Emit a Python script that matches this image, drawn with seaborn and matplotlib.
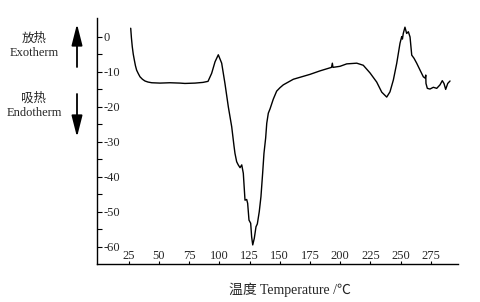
import matplotlib
matplotlib.use("Agg")
import matplotlib.pyplot as plt
import seaborn as sns
import pandas as pd
from matplotlib.ticker import FixedLocator

# Data
temperature = [26.6, 27.2, 27.9, 28.7, 29.6, 30.5, 31.5, 32.9, 34.3, 36.3, 38.4, 40.9, 44.0, 50.8, 59.1,
               67.4, 71.5, 79.8, 86.4, 90.6, 93.6, 96.4, 99.1, 101.9, 104.6, 107.4, 110.2, 112.1, 112.9,
               114.3, 115.6, 117.1, 118.5, 119.8, 121.2, 122.6, 123.4, 124.5, 125.9, 126.7, 127.6, 128.9,
               130.3, 131.4, 133.0, 134.4, 135.8, 136.9, 138.3, 139.2, 140.5, 141.9, 144.6, 147.4, 150.2,
               152.9, 161.2, 175.0, 183.3, 192.8, 193.5, 194.0, 199.8, 205.4, 213.7, 219.1, 224.7, 230.2,
               234.4, 238.5, 241.2, 244.0, 246.8, 249.5, 250.9, 251.5, 252.2, 253.6, 255.0, 256.4, 257.8,
               259.2, 261.1, 263.3, 266.1, 268.8, 270.4, 270.8, 271.0, 272.1, 274.3, 277.1, 279.9, 282.6,
               284.5, 285.9, 287.3, 289.0, 290.9]
heat_flow = [2.5, -0.3, -2.8, -4.9, -6.6, -8.2, -9.5, -10.5, -11.4, -12.1, -12.6, -12.9, -13.1, -13.2, -13.1,
             -13.2, -13.3, -13.2, -13.0, -12.7, -10.4, -7.1, -5.1, -7.5, -13.3, -20.0, -25.7, -31.2, -33.3,
             -35.7, -36.6, -37.4, -36.6, -39.0, -46.7, -46.5, -47.6, -52.4, -53.3, -57.2, -59.5, -57.6,
             -54.3, -53.5, -50.0, -45.7, -39.0, -33.3, -28.9, -24.7, -21.8, -20.6, -17.8, -15.5, -14.5,
             -13.7, -12.1, -10.7, -9.7, -8.7, -7.5, -8.7, -8.4, -7.7, -7.5, -8.1, -10.3, -12.9,
             -15.8, -17.2, -15.7, -12.3, -7.5, -1.8, 0.1, -0.6, 1.0, 2.8, 1.0, 1.5, 0.0,
             -5.2, -6.1, -7.5, -9.5, -11.4, -11.8, -10.9, -13.3, -14.7, -14.9, -14.4, -14.7, -13.7,
             -12.5, -13.3, -15.0, -13.3, -12.6]
x_ticks = [25, 50, 75, 100, 125, 150, 175, 200, 225, 250, 275]
y_ticks = [0, -10, -20, -30, -40, -50, -60]
y_minor = [-5, -15, -25, -35, -45, -55]

df = pd.DataFrame({"T": temperature, "Q": heat_flow})

sns.set_theme(style="white")
plt.rcParams["font.family"] = ["Liberation Serif", "Noto Sans CJK SC"]
plt.rcParams["axes.unicode_minus"] = False

W, H = 480, 302
fig = plt.figure(figsize=(W / 100, H / 100), dpi=100)
ax = fig.add_axes([97 / W, 1 - 264 / H, (458 - 97) / W, (264 - 18.3) / H])

sns.lineplot(data=df, x="T", y="Q", sort=False, estimator=None, color="black", lw=1.0, ax=ax)

ax.set_xlim(-1.3, 297.5)
ax.set_ylim(-64.96, 5.34)
ax.set_xlabel("")
ax.set_ylabel("")

for s in ["top", "right"]:
    ax.spines[s].set_visible(False)
for s in ["left", "bottom"]:
    ax.spines[s].set_color("black")
    ax.spines[s].set_linewidth(1.0)

ax.xaxis.set_major_locator(FixedLocator(x_ticks))
ax.yaxis.set_major_locator(FixedLocator(y_ticks))
ax.yaxis.set_minor_locator(FixedLocator(y_minor))

ax.tick_params(axis="y", which="both", direction="in", length=3.6, width=0.8, color="black",
               pad=-4.6, labelsize=9, left=True)
ax.tick_params(axis="x", which="major", direction="in", length=2.2, width=0.8, color="black",
               pad=-3.3, labelsize=9, bottom=True)
for lab in ax.get_yticklabels():
    lab.set_horizontalalignment("left")
for lab in ax.get_xticklabels():
    lab.set_verticalalignment("baseline")

# Exotherm / Endotherm annotations
fig.text(34 / W, 1 - 39 / H, "放热", ha="center", va="center", fontsize=9)
fig.text(34 / W, 1 - 53 / H, "Exotherm", ha="center", va="center", fontsize=9)
fig.text(34 / W, 1 - 98 / H, "吸热", ha="center", va="center", fontsize=9)
fig.text(34 / W, 1 - 113 / H, "Endotherm", ha="center", va="center", fontsize=9)

arrow_kw = dict(arrowstyle="-|>,head_length=1.3,head_width=0.33", color="black", lw=1.3,
                shrinkA=0, shrinkB=0, mutation_scale=10)
ax.annotate("", xy=(77, H - 24), xytext=(77, H - 67), xycoords="figure pixels",
            textcoords="figure pixels", arrowprops=arrow_kw, annotation_clip=False)
ax.annotate("", xy=(77, H - 137), xytext=(77, H - 94), xycoords="figure pixels",
            textcoords="figure pixels", arrowprops=arrow_kw, annotation_clip=False)

fig.text(290 / W, 1 - 290 / H, "温度 Temperature /℃", ha="center", va="center", fontsize=10)

fig.savefig("out.png", dpi=100)
